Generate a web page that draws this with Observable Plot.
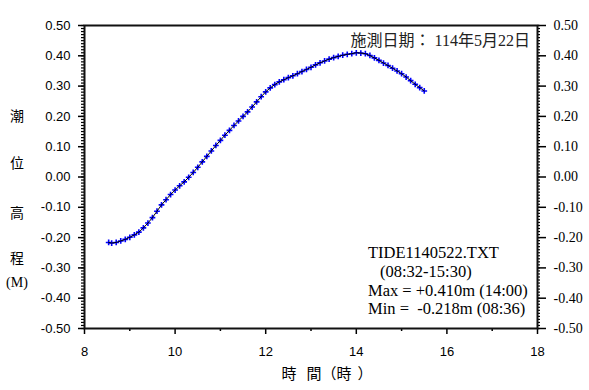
<!DOCTYPE html>
<html><head><meta charset="utf-8">
<script src="https://cdn.jsdelivr.net/npm/d3@7"></script>
<script src="https://cdn.jsdelivr.net/npm/@observablehq/plot@0.6"></script>
<style>
body{margin:0;background:#fff;}
svg text{white-space:pre;}
</style></head><body><div id="chart"></div>
<script>
const times = ["08:32","08:36","08:42","08:48","08:54",
"09:00","09:06","09:12","09:18","09:24","09:30","09:36","09:42","09:48","09:54",
"10:00","10:06","10:12","10:18","10:24","10:30","10:36","10:42","10:48","10:54",
"11:00","11:06","11:12","11:18","11:24","11:30","11:36","11:42","11:48","11:54",
"12:00","12:06","12:12","12:18","12:24","12:30","12:36","12:42","12:48","12:54",
"13:00","13:06","13:12","13:18","13:24","13:30","13:36","13:42","13:48","13:54",
"14:00","14:06","14:12","14:18","14:24","14:30","14:36","14:42","14:48","14:54",
"15:00","15:06","15:12","15:18","15:24","15:30"];
const levels = [-0.216,-0.218,-0.216,-0.211,-0.206,
-0.199,-0.191,-0.182,-0.168,-0.152,-0.134,-0.113,-0.092,-0.075,-0.058,
-0.043,-0.029,-0.016,-0.001,0.015,0.032,0.050,0.068,0.086,0.104,
0.121,0.138,0.154,0.170,0.185,0.200,0.215,0.231,0.248,0.265,
0.281,0.294,0.305,0.314,0.321,0.328,0.334,0.341,0.348,0.355,
0.362,0.370,0.377,0.383,0.389,0.394,0.398,0.402,0.405,0.407,
0.410,0.409,0.407,0.401,0.393,0.385,0.376,0.368,0.359,0.350,
0.341,0.330,0.318,0.306,0.295,0.284];
const xTicks = [8,10,12,14,16,18];
const xMinorTicks = [9,11,13,15,17];
const yTicks = [-0.5,-0.4,-0.3,-0.2,-0.1,0,0.1,0.2,0.3,0.4,0.5];
const yTickLabels = ["-0.50","-0.40","-0.30","-0.20","-0.10","0.00","0.10","0.20","0.30","0.40","0.50"];
const yMinorTicks = d3.range(-50,51).map(d=>d/100);
const yTitleChars = ["潮","位","高","程"];
const xTitleChars = ["時","間","（","時","）"];
const dateText = "施測日期： 114年5月22日";
const infoLines = ["TIDE1140522.TXT","(08:32-15:30)","Max = +0.410m (14:00)","Min =  -0.218m (08:36)"];

const data = times.map((t,i)=>{const [h,m]=t.split(":").map(Number); return {t:h+m/60, v:levels[i]};});
const fmtY = d => { const i = yTicks.findIndex(v=>Math.abs(v-d)<1e-9); return i<0 ? "" : yTickLabels[i]; };
const sans = "'Liberation Sans', Arial, sans-serif";
const serif = "'Liberation Serif', 'Times New Roman', serif";
const cjk = "'Noto Sans CJK TC', sans-serif";

const W = 589, H = 390, mL = 84, mR = 52, mT = 25, mB = 62;
const xDom = [8,18], yDom = [-0.5,0.5];
const minorLen = 3; // px
const dxUnit = (xDom[1]-xDom[0])/(W-mL-mR);
const dyUnit = (yDom[1]-yDom[0])/(H-mT-mB);

const plot = Plot.plot({
  width:W, height:H,
  marginLeft:mL, marginRight:mR, marginTop:mT, marginBottom:mB,
  x:{domain:xDom}, y:{domain:yDom},
  style:{fontFamily:sans, fontSize:"13px"},
  marks:[
    Plot.ruleY(yMinorTicks,{y:d=>d, x1:xDom[0]-minorLen*dxUnit, x2:xDom[0], stroke:"#000", strokeWidth:1.2}),
    Plot.ruleY(yMinorTicks,{y:d=>d, x1:xDom[1], x2:xDom[1]+minorLen*dxUnit, stroke:"#000", strokeWidth:1.2}),
    Plot.ruleX(xMinorTicks,{x:d=>d, y1:yDom[0], y2:yDom[0]-minorLen*dyUnit, stroke:"#000", strokeWidth:1.5}),
    Plot.axisY({ticks:yTicks, anchor:"left", tickSize:6, tickPadding:8, tickFormat:fmtY, label:null, fontSize:13, strokeWidth:1.5}),
    Plot.axisY({ticks:yTicks, anchor:"right", tickSize:8, tickPadding:8, tickFormat:fmtY, label:null, fontFamily:serif, fontSize:14, strokeWidth:1.5}),
    Plot.axisX({ticks:xTicks, anchor:"bottom", tickSize:6, tickPadding:12, tickFormat:d=>String(d), label:null, fontSize:13, strokeWidth:1.5}),
    Plot.frame({stroke:"#111", strokeWidth:2}),
    Plot.dot(data,{x:"t", y:"v", symbol:"plus", r:2, stroke:"#0000ff", strokeWidth:1.6}),
    Plot.line(data,{x:"t", y:"v", stroke:"#000", strokeWidth:1})
  ]
});
document.getElementById("chart").appendChild(plot);
const svg = d3.select(plot);
// y title
const yt = [115,162,212,257];
yTitleChars.forEach((c,i)=>{
  svg.append("text").attr("x",17).attr("y",yt[i]).attr("text-anchor","middle").attr("dominant-baseline","central")
    .style("font-family",cjk).style("font-size","14px").text(c);
});
svg.append("text").attr("x",17).attr("y",282).attr("text-anchor","middle").attr("dominant-baseline","central")
  .style("font-family",serif).style("font-size","14px").text("(M)");
// x title
const xt = svg.append("text").attr("y",372).attr("text-anchor","middle").attr("dominant-baseline","central")
  .style("font-family",cjk).style("font-size","15px");
const xtx = [289,314,329,344,365];
xTitleChars.forEach((c,i)=>{ xt.append("tspan").attr("x",xtx[i]).text(c); });
// date
svg.append("text").attr("x",530).attr("y",40).attr("text-anchor","end").attr("dominant-baseline","central")
  .style("font-family",serif+", "+cjk).style("font-size","16px").style("fill","#222").text(dateText);
// info
const ix = [368,380,368,368], iy=[252,271,290,308];
infoLines.forEach((s,i)=>{
  svg.append("text").attr("x",ix[i]).attr("y",iy[i]).attr("text-anchor","start").attr("dominant-baseline","central")
    .style("font-family",serif).style("font-size","16.5px").text(s);
});
</script></body></html>
